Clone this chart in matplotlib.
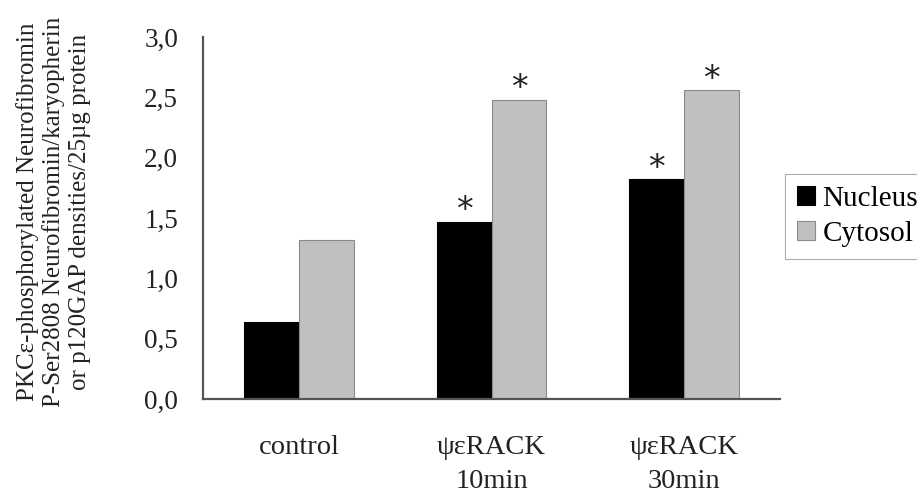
import matplotlib
matplotlib.use("Agg")
import matplotlib.pyplot as plt
import numpy as np

categories = ["control", "ψεRACK\n10min", "ψεRACK\n30min"]
series_names = ["Nucleus", "Cytosol"]
nucleus = [0.64, 1.47, 1.82]
cytosol = [1.32, 2.48, 2.56]
nucleus_sig = [False, True, True]
cytosol_sig = [False, True, True]
yticks = [0.0, 0.5, 1.0, 1.5, 2.0, 2.5, 3.0]
ytick_labels = ["0,0", "0,5", "1,0", "1,5", "2,0", "2,5", "3,0"]
ylabel = "PKCε-phosphorylated Neurofibromin\nP-Ser2808 Neurofibromin/karyopherin\nor p120GAP densities/25µg protein"

plt.rcParams['font.family'] = ['Liberation Serif', 'DejaVu Serif']

fig = plt.figure(figsize=(9.17, 4.94), dpi=100)
ax = fig.add_axes([0.2214, 0.1923, 0.6292, 0.7327])

x = np.arange(len(categories))
w = 0.285
b1 = ax.bar(x - w/2, nucleus, w, color="black", edgecolor="black", linewidth=0.8, label=series_names[0])
b2 = ax.bar(x + w/2, cytosol, w, color="#c0c0c0", edgecolor="#8a8a8a", linewidth=0.8, label=series_names[1])

for bars, sig in ((b1, nucleus_sig), (b2, cytosol_sig)):
    for rect, s in zip(bars, sig):
        if s:
            ax.annotate("*", (rect.get_x() + rect.get_width()/2, rect.get_height()),
                        xytext=(0, -4), textcoords="offset points",
                        ha="center", va="bottom", fontsize=24,
                        family=["DejaVu Sans"], color="#222222")

ax.set_xlim(-0.5, 2.5)
ax.set_ylim(0, 3.0)
ax.set_yticks(yticks)
ax.set_yticklabels(ytick_labels)
ax.set_xticks(x)
ax.set_xticklabels(categories, linespacing=1.45)
ax.tick_params(axis="y", length=0, pad=18, labelsize=19.5, colors="#222222")
ax.tick_params(axis="x", length=0, pad=26, labelsize=20.5, colors="#222222")
for s in ("top", "right"):
    ax.spines[s].set_visible(False)
for s in ("left", "bottom"):
    ax.spines[s].set_color("#555555")
    ax.spines[s].set_linewidth(1.6)

fig.text(0.058, 0.571, ylabel, rotation=90, ha="center", va="center",
         fontsize=18, linespacing=1.2, color="#222222")

leg = ax.legend(loc="center left", bbox_to_anchor=(0.856, 0.562), bbox_transform=fig.transFigure,
                frameon=True, fancybox=False, fontsize=21, handlelength=0.62, handleheight=0.62,
                handletextpad=0.25, borderpad=0.42, labelspacing=0.3, borderaxespad=0)
leg.get_frame().set_edgecolor("#999999")
leg.get_frame().set_linewidth(0.8)

fig.savefig("out.png", dpi=100)
